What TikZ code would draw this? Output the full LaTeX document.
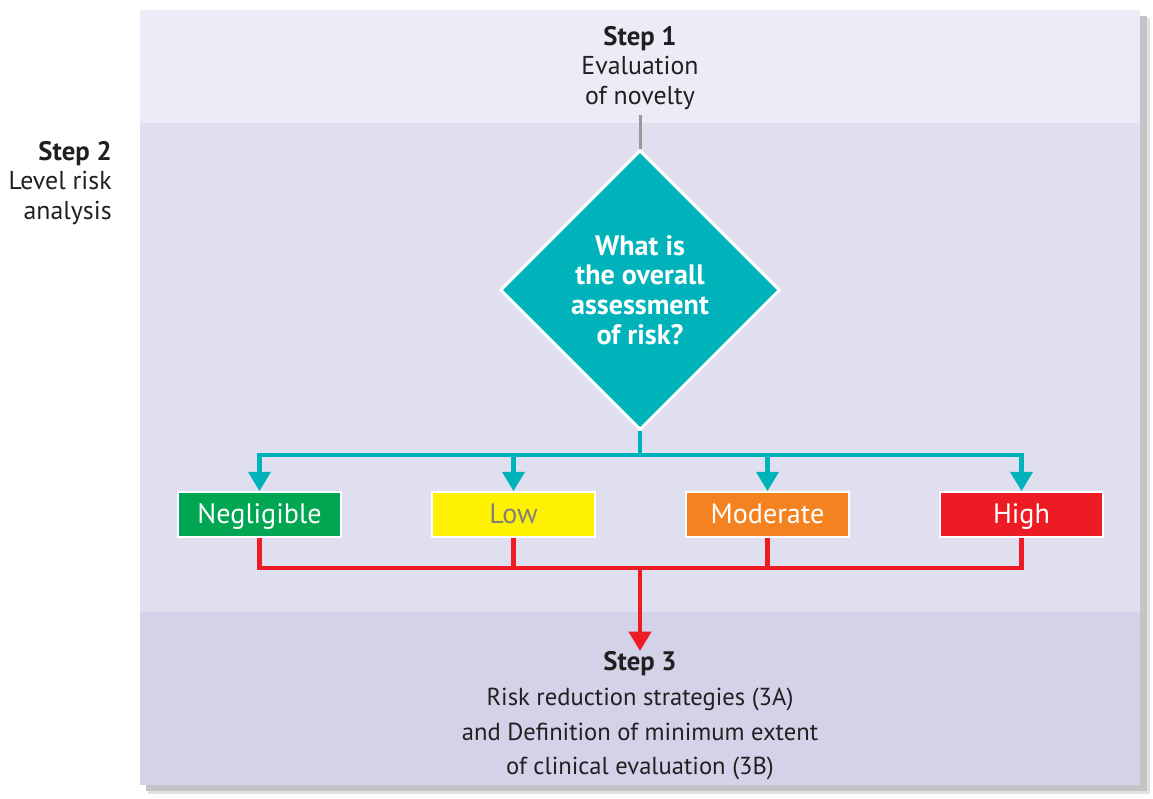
\documentclass[tikz,border=0pt]{standalone}
\usepackage{fontspec}
\setmainfont{PT Sans}
\usetikzlibrary{arrows.meta,shapes.geometric}

\definecolor{bandtop}{HTML}{EDECF6}
\definecolor{bandmid}{HTML}{E0DFEF}
\definecolor{bandbot}{HTML}{D4D2E8}
\definecolor{shadowgrey}{HTML}{C4C4C4}
\definecolor{riskteal}{HTML}{00B3BA}
\definecolor{riskgreen}{HTML}{00A651}
\definecolor{riskyellow}{HTML}{FFF200}
\definecolor{riskorange}{HTML}{F58220}
\definecolor{riskred}{HTML}{ED1C24}
\definecolor{textdark}{HTML}{231F20}

\newcommand{\stephead}[1]{{\fontsize{15.2}{16.8}\bfseries\selectfont #1}}

\tikzset{
  steptext/.style={text=textdark,align=center,inner sep=0pt,font=\fontsize{14.7}{16.8}\selectfont},
  levelbox/.style={draw=white,line width=1pt,minimum width=3.26cm,minimum height=0.9cm,inner sep=0pt,
    text height=12.5pt,text depth=2.5pt,text=white,font=\fontsize{16}{18}\selectfont},
  tealarrow/.style={riskteal,line width=2.3pt,-{Triangle[width=12.5pt,length=11pt]}},
  redline/.style={riskred,line width=2.3pt}
}

\begin{document}
\begin{tikzpicture}[x=0.02cm,y=-0.02cm]
        \useasboundingbox (0,0) rectangle (1153,798);
        % panel with its shadow
        \fill[shadowgrey!50](148,18)rectangle(1150,794);
        \fill[shadowgrey](146,16)rectangle(1147,791);
        \fill[bandtop](140,10)rectangle(1140,123);
        \fill[bandmid](140,123)rectangle(1140,612);
        \fill[bandbot](140,612)rectangle(1140,785);

        \node[steptext,anchor=north](Step1)at(640, 26){\stephead{Step 1}\\Evaluation\\of novelty};
        \node[steptext,anchor=north east,align=right](Step2)at(112, 141){\stephead{Step 2}\\Level risk\\analysis};
        \node[shape=diamond,draw=white,line width=1.7pt,fill=riskteal,minimum width=5.6cm,minimum height=5.6cm,
              inner sep=0pt,text=white,align=center,font=\fontsize{16}{17}\bfseries\selectfont](Dia)at(640, 290)
              {What is\\the overall\\assessment\\of risk?};
        \node[levelbox,fill=riskgreen](Neg)at(259.5, 514.5){Negligible};
        \node[levelbox,fill=riskyellow,text=gray](Low)at(513.5, 514.5){Low};
        \node[levelbox,fill=riskorange](Mod)at(767.5, 514.5){Moderate};
        \node[levelbox,fill=riskred](High)at(1021.5, 514.5){High};
        \node[steptext,anchor=north,font=\fontsize{14}{19.8}\selectfont](Step3)at(640, 651)
              {\stephead{Step 3}\\Risk reduction strategies (3A)\\and Definition of minimum extent\\of clinical evaluation (3B)};

        \coordinate(TealJoin)at(640, 455);
        \coordinate(RedJoin)at(640, 568);

        \draw[gray!80,line width=1.7pt](Step1.south)++(0,5)--(Dia.north);
        \draw[riskteal,line width=2.3pt](Dia.south)--(TealJoin);
        \foreach \lvl in {Neg,Low,Mod,High}
          \draw[tealarrow](TealJoin)-|(\lvl.north);
        \foreach \lvl in {Neg,Low,Mod,High}
          \draw[redline](\lvl.south)|-(RedJoin);
        \draw[redline,-{Triangle[width=12.5pt,length=11pt]}](RedJoin)--(Step3.north);
    \end{tikzpicture}
\end{document}
